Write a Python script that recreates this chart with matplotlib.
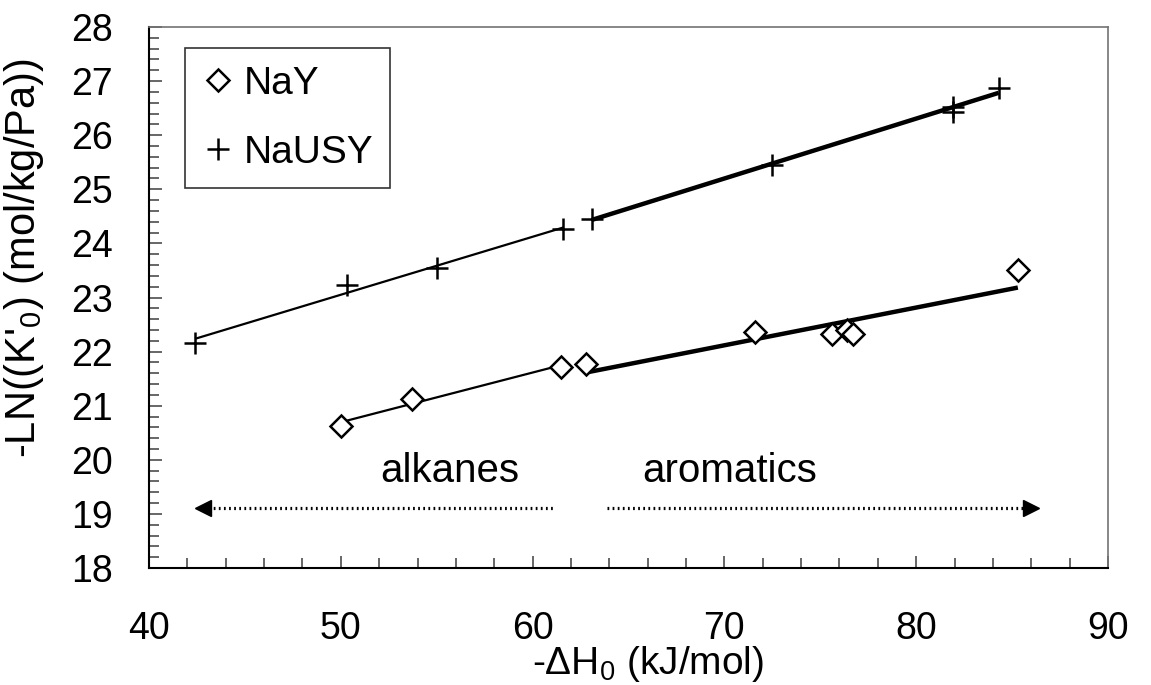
import numpy as np
import matplotlib
matplotlib.use("Agg")
import matplotlib.pyplot as plt
from matplotlib.lines import Line2D
from matplotlib.ticker import MultipleLocator

plt.rcParams['font.family'] = ['Liberation Sans', 'DejaVu Sans']
plt.rcParams['mathtext.fontset'] = 'custom'
plt.rcParams['mathtext.rm'] = 'Liberation Sans'
plt.rcParams['mathtext.it'] = 'Liberation Sans'

# NaY (diamonds): alkanes then aromatics
nay_alk_x = [50.0, 53.7, 61.5]
nay_alk_y = [20.63, 21.13, 21.72]
nay_aro_x = [62.8, 71.6, 75.6, 76.4, 76.7, 85.3]
nay_aro_y = [21.78, 22.36, 22.32, 22.40, 22.32, 23.50]

# NaUSY (plus): alkanes then aromatics
usy_alk_x = [42.4, 50.3, 55.0, 61.6]
usy_alk_y = [22.16, 23.24, 23.54, 24.26]
usy_aro_x = [63.1, 72.5, 81.9, 81.9, 84.3]
usy_aro_y = [24.46, 25.45, 26.53, 26.42, 26.87]

# region arrows (x extent) and labels
alk_arrow = [42.8, 61.1]
aro_arrow = [63.9, 86.0]
arrow_y = 19.1
region_labels = ["alkanes", "aromatics"]
region_label_x = [55.7, 70.3]
region_label_y = 19.8

FS = 27      # tick labels
LFS = 29     # axis titles, annotations

fig = plt.figure(figsize=(11.51, 6.85), dpi=100)
ax = fig.add_axes([149 / 1151, 1 - 568 / 685, 959 / 1151, 541 / 685])


def fit_line(xs, ys, ax, lw):
    p = np.polyfit(xs, ys, 1)
    xx = np.array([min(xs), max(xs)])
    ax.plot(xx, np.polyval(p, xx), color='black', lw=lw, zorder=2,
            solid_capstyle='butt')


fit_line(usy_alk_x, usy_alk_y, ax, 1.6)
fit_line(usy_aro_x, usy_aro_y, ax, 3.2)
fit_line(nay_alk_x, nay_alk_y, ax, 1.6)
fit_line(nay_aro_x, nay_aro_y, ax, 3.2)

dia = dict(marker='D', ms=11, mfc='white', mec='black', mew=1.8, ls='none', zorder=3)
plus = dict(marker='+', ms=16, mec='black', mew=1.8, ls='none', zorder=3)
ax.plot(nay_alk_x + nay_aro_x, nay_alk_y + nay_aro_y, **dia)
ax.plot(usy_alk_x + usy_aro_x, usy_alk_y + usy_aro_y, **plus)

# dotted arrows
dots = (0, (0.55, 1.05))
ax.plot(alk_arrow, [arrow_y, arrow_y], color='black', lw=2.3, ls=dots)
ax.plot(alk_arrow[0], arrow_y, marker='<', ms=12, color='black', ls='none')
ax.plot(aro_arrow, [arrow_y, arrow_y], color='black', lw=2.3, ls=dots)
ax.plot(aro_arrow[1], arrow_y, marker='>', ms=12, color='black', ls='none')
for lab, lx in zip(region_labels, region_label_x):
    ax.text(lx, region_label_y, lab, fontsize=LFS, ha='center', va='center')

ax.set_xlim(40, 90)
ax.set_ylim(18, 28)
ax.xaxis.set_major_locator(MultipleLocator(10))
ax.xaxis.set_minor_locator(MultipleLocator(2))
ax.yaxis.set_major_locator(MultipleLocator(1))
ax.yaxis.set_minor_locator(MultipleLocator(0.2))
ax.tick_params(which='both', direction='in', color='0.3', width=1.2,
               top=False, right=False)
ax.tick_params(which='major', length=9, labelsize=FS)
ax.tick_params(axis='x', which='major', pad=31)
ax.tick_params(axis='y', which='major', pad=26)
ax.tick_params(which='minor', length=7)

for s in ['left', 'bottom']:
    ax.spines[s].set_color('black')
    ax.spines[s].set_linewidth(1.5)
for s in ['top', 'right']:
    ax.spines[s].set_color('0.45')
    ax.spines[s].set_linewidth(1.2)

fig.text(648 / 1151, 1 - 664 / 685, r"-$\Delta$H$_0$ (kJ/mol)", fontsize=28,
         ha='center', va='center')
fig.text(24 / 1151, 1 - 258 / 685, r"-LN((K'$_0$) (mol/kg/Pa))", fontsize=LFS + 1,
         ha='center', va='center', rotation=90)

handles = [Line2D([], [], **dia), Line2D([], [], **plus)]
leg = ax.legend(handles, ['NaY', 'NaUSY'], loc='upper left',
                bbox_to_anchor=(36 / 959, (568 - 48) / 541), fontsize=28,
                frameon=True, fancybox=False, edgecolor='black',
                handlelength=0.8, handletextpad=0.25, labelspacing=0.85,
                borderpad=0.45, borderaxespad=0)
leg.get_frame().set_linewidth(1.2)

fig.savefig('out.png', dpi=100)
